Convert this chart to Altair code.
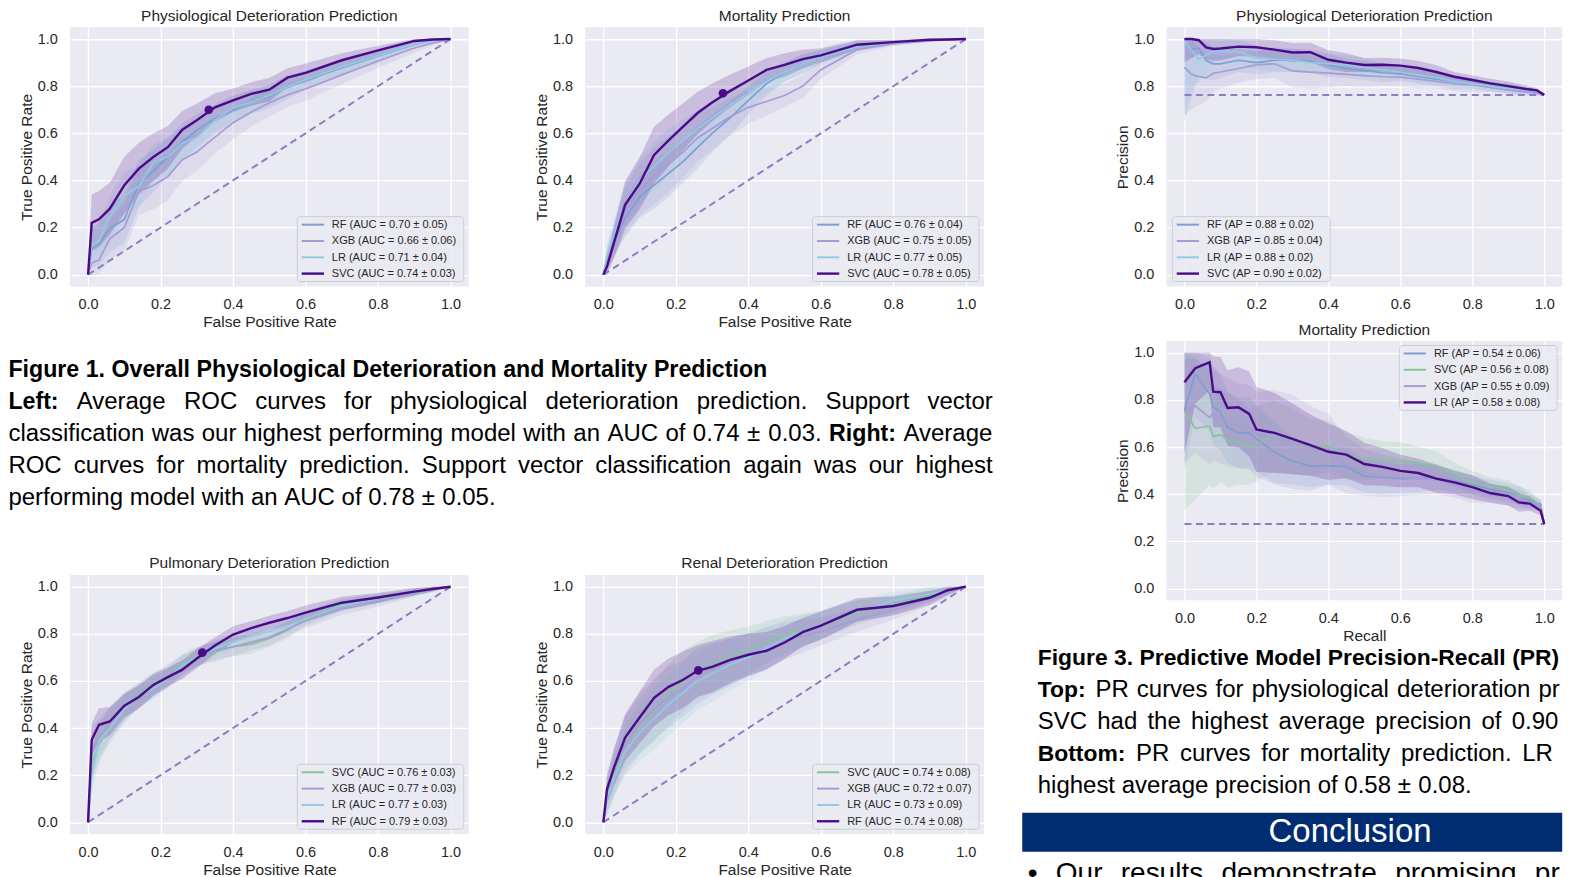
import altair as alt
import pandas as pd

FONT = "Liberation Sans"
INK = "#262626"
PANEL_BG = "#EAEAF2"
C_RF = "#7F9FD0"
C_XGB = "#A99BD6"
C_LR = "#8FCBE3"
C_SVC = "#86C49C"
C_BEST = "#4B0A8A"
C_CHANCE = "#8B7FC3"

# ---------------- ROC data (false positive rate grid) ----------------
ROC_FPR = [0, 0.01, 0.03, 0.06, 0.1, 0.14, 0.18, 0.22, 0.26, 0.3, 0.35, 0.4, 0.45, 0.5, 0.55, 0.6, 0.7, 0.8, 0.9, 0.95, 1.0]
CHANCE_X = [0, 1]
CHANCE_Y = [0, 1]

PHYS_LABELS = ["RF (AUC = 0.70 ± 0.05)", "XGB (AUC = 0.66 ± 0.06)", "LR (AUC = 0.71 ± 0.04)", "SVC (AUC = 0.74 ± 0.03)"]
PHYS_RF = [0, .11, .13, .196, .234, .387, .44, .50, .563, .613, .663, .70, .734, .756, .795, .826, .877, .928, .977, .994, 1]
PHYS_XGB = [0, .05, .062, .152, .20, .353, .378, .416, .488, .52, .584, .645, .69, .73, .763, .788, .848, .907, .962, .982, 1]
PHYS_LR = [0, .126, .142, .243, .335, .375, .475, .50, .558, .582, .656, .708, .732, .76, .797, .828, .882, .93, .979, .993, 1]
PHYS_SVC = [0, .22, .235, .28, .38, .45, .499, .541, .615, .655, .71, .74, .767, .785, .836, .856, .91, .952, .992, .998, 1]
PHYS_RF_SD = [0, .08, .09, .10, .10, .10, .09, .08, .08, .07, .06, .06, .05, .05, .05, .04, .03, .03, .015, .01, 0]
PHYS_XGB_SD = [0, .05, .06, .09, .10, .10, .10, .10, .09, .08, .07, .07, .06, .06, .05, .05, .04, .03, .02, .01, 0]
PHYS_LR_SD = [0, .07, .08, .09, .10, .09, .08, .08, .07, .06, .06, .05, .05, .04, .04, .04, .03, .02, .01, .01, 0]
PHYS_SVC_SD = [0, .12, .12, .11, .12, .11, .10, .09, .08, .07, .06, .05, .05, .05, .04, .04, .03, .02, .01, .005, 0]
PHYS_DOT = [0.333, 0.70]

MORT_LABELS = ["RF (AUC = 0.76 ± 0.04)", "XGB (AUC = 0.75 ± 0.05)", "LR (AUC = 0.77 ± 0.05)", "SVC (AUC = 0.78 ± 0.05)"]
MORT_RF = [0, .06, .14, .24, .33, .38, .43, .48, .54, .60, .665, .74, .81, .86, .895, .925, .97, .985, .995, .998, 1]
MORT_XGB = [0, .06, .15, .27, .36, .42, .47, .52, .58, .62, .67, .71, .735, .76, .80, .87, .955, .98, .992, .997, 1]
MORT_LR = [0, .08, .17, .30, .40, .46, .52, .57, .62, .665, .72, .77, .82, .86, .895, .925, .968, .985, .995, .998, 1]
MORT_SVC = [0, .034, .14, .296, .386, .508, .57, .628, .686, .731, .78, .824, .869, .89, .915, .931, .976, .987, .997, .998, 1]
MORT_RF_SD = [0, .04, .06, .08, .09, .10, .10, .09, .09, .08, .07, .06, .05, .04, .04, .03, .02, .01, .005, 0, 0]
MORT_XGB_SD = [0, .05, .07, .10, .11, .12, .12, .11, .10, .09, .08, .07, .06, .05, .05, .04, .02, .01, .005, 0, 0]
MORT_LR_SD = [0, .05, .07, .09, .10, .10, .10, .09, .08, .07, .06, .05, .05, .04, .04, .03, .02, .01, .005, 0, 0]
MORT_SVC_SD = [0, .04, .07, .10, .11, .12, .11, .10, .09, .08, .07, .06, .05, .05, .04, .03, .02, .01, .005, 0, 0]
MORT_DOT = [0.33, 0.77]

PULM_LABELS = ["SVC (AUC = 0.76 ± 0.03)", "XGB (AUC = 0.77 ± 0.03)", "LR (AUC = 0.77 ± 0.03)", "RF (AUC = 0.79 ± 0.03)"]
PULM_SVC = [0, .25, .33, .42, .49, .545, .587, .62, .672, .705, .723, .745, .755, .78, .815, .865, .925, .948, .972, .988, 1]
PULM_XGB = [0, .30, .36, .42, .49, .535, .58, .62, .665, .70, .73, .745, .765, .785, .82, .855, .905, .935, .975, .99, 1]
PULM_LR = [0, .20, .345, .40, .48, .535, .568, .612, .666, .70, .738, .767, .79, .81, .833, .865, .92, .95, .978, .99, 1]
PULM_RF = [0, .35, .414, .428, .495, .532, .583, .616, .648, .695, .75, .797, .824, .847, .867, .89, .932, .954, .979, .99, 1]
PULM_SVC_SD = [0, .08, .08, .07, .06, .05, .05, .04, .04, .04, .04, .04, .04, .035, .035, .03, .025, .02, .015, .01, 0]
PULM_XGB_SD = [0, .10, .08, .07, .06, .05, .05, .05, .045, .04, .04, .04, .035, .035, .03, .03, .025, .02, .015, .01, 0]
PULM_LR_SD = [0, .08, .08, .07, .06, .05, .045, .04, .04, .04, .035, .035, .035, .03, .03, .03, .025, .02, .015, .01, 0]
PULM_RF_SD = [0, .07, .07, .06, .05, .05, .045, .04, .04, .04, .035, .035, .03, .03, .03, .03, .025, .02, .015, .01, 0]
PULM_DOT = [0.315, 0.72]

RENAL_LABELS = ["SVC (AUC = 0.74 ± 0.08)", "XGB (AUC = 0.72 ± 0.07)", "LR (AUC = 0.73 ± 0.09)", "RF (AUC = 0.74 ± 0.08)"]
RENAL_SVC = [0, .10, .20, .34, .41, .475, .54, .60, .645, .675, .705, .73, .765, .795, .815, .835, .89, .925, .965, .985, 1]
RENAL_XGB = [0, .12, .22, .33, .42, .48, .53, .57, .62, .65, .68, .71, .74, .77, .79, .81, .86, .90, .95, .975, 1]
RENAL_LR = [0, .10, .19, .30, .38, .44, .50, .55, .60, .63, .67, .70, .74, .78, .81, .84, .895, .94, .97, .985, 1]
RENAL_RF = [0, .14, .235, .36, .445, .528, .575, .605, .643, .66, .689, .711, .728, .763, .807, .835, .902, .918, .953, .985, 1]
RENAL_SVC_SD = [0, .07, .09, .11, .12, .13, .13, .13, .12, .12, .11, .10, .09, .08, .07, .06, .05, .04, .03, .02, 0]
RENAL_XGB_SD = [0, .08, .10, .12, .13, .13, .13, .12, .12, .11, .10, .09, .09, .08, .07, .06, .05, .04, .03, .02, 0]
RENAL_LR_SD = [0, .06, .08, .10, .12, .13, .13, .13, .12, .12, .11, .10, .09, .08, .07, .06, .05, .04, .03, .02, 0]
RENAL_RF_SD = [0, .06, .08, .10, .11, .12, .12, .12, .11, .11, .10, .09, .08, .07, .06, .06, .05, .04, .03, .02, 0]
RENAL_DOT = [0.262, 0.645]

# ---------------- PR data (recall grids) ----------------
PR_PHYS_RECALL = [0, .02, .04, .06, .08, .1, .15, .2, .25, .3, .35, .4, .45, .5, .55, .6, .65, .7, .75, .8, .85, .9, .95, .98, 1.0]
PR_PHYS_BASE = 0.763
PR_PHYS_LABELS = ["RF (AP = 0.88 ± 0.02)", "XGB (AP = 0.85 ± 0.04)", "LR (AP = 0.88 ± 0.02)", "SVC (AP = 0.90 ± 0.02)"]
PR_PHYS_RF = [1.0, .955, .962, .91, .895, .895, .91, .90, .91, .91, .905, .89, .875, .866, .857, .852, .84, .83, .818, .81, .80, .79, .78, .775, .763]
PR_PHYS_XGB = [.88, .85, .84, .835, .855, .86, .875, .89, .895, .865, .86, .855, .85, .845, .84, .838, .83, .82, .81, .805, .795, .785, .775, .77, .763]
PR_PHYS_LR = [1.0, .95, .915, .93, .948, .95, .945, .92, .915, .91, .90, .895, .89, .88, .87, .86, .848, .836, .82, .81, .80, .79, .783, .778, .763]
PR_PHYS_SVC = [1.0, 1.0, .995, .965, .958, .96, .968, .965, .955, .943, .944, .912, .90, .89, .891, .887, .877, .86, .84, .826, .812, .80, .788, .782, .763]
PR_PHYS_RF_SD = [.35, .2, .12, .08, .07, .06, .05, .05, .05, .05, .05, .05, .04, .04, .04, .03, .03, .03, .03, .02, .02, .02, .015, .01, 0]
PR_PHYS_XGB_SD = [.2, .15, .12, .1, .08, .07, .06, .06, .06, .07, .07, .06, .05, .05, .04, .04, .04, .03, .03, .03, .02, .02, .015, .01, 0]
PR_PHYS_LR_SD = [.3, .15, .1, .07, .06, .05, .05, .05, .05, .05, .04, .04, .04, .04, .03, .03, .03, .03, .02, .02, .02, .02, .015, .01, 0]
PR_PHYS_SVC_SD = [.1, .08, .06, .05, .05, .05, .04, .04, .04, .04, .04, .04, .04, .03, .03, .03, .03, .03, .02, .02, .02, .02, .015, .01, 0]

PR_MORT_RECALL = [0, .03, .07, .08, .1, .12, .15, .18, .2, .25, .3, .35, .4, .45, .5, .55, .6, .65, .7, .75, .8, .85, .9, .93, .96, .99, 1.0]
PR_MORT_BASE = 0.273
PR_MORT_LABELS = ["RF (AP = 0.54 ± 0.06)", "SVC (AP = 0.56 ± 0.08)", "XGB (AP = 0.55 ± 0.09)", "LR (AP = 0.58 ± 0.08)"]
PR_MORT_RF = [.755, .91, .825, .77, .748, .684, .66, .66, .635, .578, .541, .519, .521, .517, .477, .472, .466, .469, .469, .456, .44, .421, .406, .395, .372, .358, .273]
PR_MORT_SVC = [.752, .68, .69, .645, .653, .628, .62, .60, .614, .648, .625, .598, .604, .563, .55, .546, .54, .531, .522, .485, .448, .433, .419, .394, .387, .351, .273]
PR_MORT_XGB = [.752, .775, .725, .745, .72, .705, .69, .683, .655, .641, .622, .594, .59, .524, .493, .478, .471, .468, .46, .436, .414, .403, .391, .38, .365, .351, .273]
PR_MORT_LR = [.875, .935, .96, .835, .833, .766, .769, .741, .675, .66, .635, .608, .58, .568, .528, .516, .499, .49, .466, .45, .43, .405, .392, .365, .36, .33, .273]
PR_MORT_RF_SD = [.25, .18, .16, .16, .16, .15, .15, .15, .14, .13, .1, .09, .08, .08, .07, .07, .06, .06, .05, .05, .04, .04, .04, .04, .03, .02, .01]
PR_MORT_SVC_SD = [.42, .3, .25, .22, .2, .2, .18, .16, .16, .15, .14, .12, .11, .1, .09, .08, .08, .07, .06, .05, .05, .04, .04, .04, .03, .02, .01]
PR_MORT_XGB_SD = [.22, .2, .2, .2, .19, .19, .18, .18, .18, .2, .2, .18, .15, .12, .1, .09, .08, .07, .06, .05, .05, .04, .04, .04, .03, .02, .01]
PR_MORT_LR_SD = [.3, .15, .12, .15, .15, .16, .17, .18, .18, .17, .15, .13, .12, .1, .09, .08, .07, .06, .06, .05, .05, .04, .04, .04, .03, .02, .01]

TICKS = [0, 0.2, 0.4, 0.6, 0.8, 1.0]

# ---------------- poster text (only what is visible in the crop) ----------------
LEFT_LINES = [
    [("Figure 1. Overall Physiological Deterioration and Mortality Prediction", True)],
    [("Left:", True), ("Average ROC curves for physiological deterioration prediction. Support vector", False)],
    [("classification was our highest performing model with an AUC of 0.74 ± 0.03.", False), ("Right:", True), ("Average", False)],
    [("ROC curves for mortality prediction. Support vector classification again was our highest", False)],
    [("performing model with an AUC of 0.78 ± 0.05.", False)],
]
RIGHT_LINES = [
    [("Figure 3. Predictive Model Precision-Recall (PR)", True)],
    [("Top:", True), ("PR curves for physiological deterioration pr", False)],
    [("SVC had the highest average precision of 0.90", False)],
    [("Bottom:", True), ("PR curves for mortality prediction. LR", False)],
    [("highest average precision of 0.58 ± 0.08.", False)],
]
BANNER_TEXT = "Conclusion"
BULLET_LINE = [("• Our results demonstrate promising pr", False)]

# Helvetica / Arial advance widths (per 1000 em) used to lay out the words
_REG = dict(zip(" .,:;()-±•", [278, 278, 278, 278, 278, 333, 333, 333, 584, 350]))
_REG.update(dict(zip("0123456789", [556] * 10)))
_REG.update(dict(zip("abcdefghijklmnopqrstuvwxyz",
                     [556, 556, 500, 556, 556, 278, 556, 556, 222, 222, 500, 222, 833, 556, 556, 556, 556, 333, 500, 278, 556, 500, 722, 500, 500, 500])))
_REG.update(dict(zip("ABCDEFGHIJKLMNOPQRSTUVWXYZ",
                     [667, 667, 722, 722, 667, 611, 778, 722, 278, 500, 667, 556, 833, 722, 778, 667, 778, 722, 667, 611, 722, 667, 944, 667, 667, 611])))
_BOLD = dict(zip(" .,:;()-±•", [278, 278, 278, 333, 333, 333, 333, 333, 584, 350]))
_BOLD.update(dict(zip("0123456789", [556] * 10)))
_BOLD.update(dict(zip("abcdefghijklmnopqrstuvwxyz",
                      [556, 611, 556, 611, 556, 333, 611, 611, 278, 278, 556, 278, 889, 611, 611, 611, 611, 389, 556, 333, 611, 556, 778, 556, 556, 500])))
_BOLD.update(dict(zip("ABCDEFGHIJKLMNOPQRSTUVWXYZ",
                      [722, 722, 722, 722, 667, 611, 778, 722, 278, 556, 722, 611, 833, 722, 778, 667, 778, 722, 667, 611, 722, 667, 944, 667, 667, 611])))


def text_width(s, bold, size):
    table = _BOLD if bold else _REG
    return sum(table.get(c, 556) for c in s) * size / 1000.0


def layout_lines(lines, modes, x0, x1, y0, lh, fs_reg, fs_bold):
    rows = []
    for i, segs in enumerate(lines):
        words = [(w, b) for t, b in segs for w in t.split()]
        sizes = [fs_bold if b else fs_reg for _, b in words]
        widths = [text_width(w, b, s) for (w, b), s in zip(words, sizes)]
        mode = modes[i]
        if mode == "justify":
            gap = (x1 - x0 - sum(widths)) / (len(words) - 1)
        elif mode == "natural":
            gap = 278 * sizes[0] / 1000.0
        else:
            gap = float(mode)
        x = x0
        for (w, b), s, wd in zip(words, sizes, widths):
            rows.append({"w": w, "b": b, "fs": s, "x": x, "y": y0 + i * lh})
            x += wd + gap
    return rows


def text_layer(rows, color="#000000"):
    df = pd.DataFrame(rows)
    parts = []
    for weight, sub in (("normal", df[~df.b]), ("bold", df[df.b])):
        if len(sub) == 0:
            continue
        parts.append(alt.Chart(sub.drop(columns=["b"])).mark_text(
            align="left", baseline="alphabetic", font=FONT, color=color, fontWeight=weight
        ).encode(
            x=alt.X("x:Q", scale=None, axis=None),
            y=alt.Y("y:Q", scale=None, axis=None),
            text="w:N",
            size=alt.Size("fs:Q", scale=None, legend=None),
        ))
    return parts


def frame(x1, x2, y1, y2):
    """Invisible box that fixes the extent of a cell for the concat layout."""
    return alt.Chart(pd.DataFrame({"k": [0]})).mark_rect(opacity=0).encode(
        x=alt.value(x1), x2=alt.value(x2), y=alt.value(y1), y2=alt.value(y2))


PH = 259.3
LEG_FS = 11
LEG_ROW = 16.33
TITLE_BASE = -6.5


def legend_layers(labels, colors, corner, pw):
    """Matplotlib-style legend box drawn inside the panel."""
    tw = max(text_width(l, False, LEG_FS) for l in labels)
    bw = 34.6 + tw + 7.5
    bh = 8 + 3 * LEG_ROW + 8
    if corner == "bottom-right":
        bx, by = pw - 5 - bw, PH - 4.8 - bh
    elif corner == "bottom-left":
        bx, by = 5.9, PH - 4.8 - bh
    else:
        bx, by = pw - 5 - bw, 4.4
    out = [alt.Chart(pd.DataFrame({"k": [0]})).mark_rect(
        fill="#EAEAF2", fillOpacity=0.85, stroke="#CDCDD5", strokeWidth=1, cornerRadius=3
    ).encode(x=alt.value(bx), x2=alt.value(bx + bw), y=alt.value(by), y2=alt.value(by + bh))]
    for i, (lab, col) in enumerate(zip(labels, colors)):
        yy = by + 8 + i * LEG_ROW
        out.append(alt.Chart(pd.DataFrame({"t": [lab]})).mark_rule(
            color=col, strokeWidth=2.4 if i == len(labels) - 1 else 2
        ).encode(x=alt.value(bx + 4.4), x2=alt.value(bx + 26.7), y=alt.value(yy)))
        out.append(alt.Chart(pd.DataFrame({"t": [lab]})).mark_text(
            align="left", baseline="middle", font=FONT, fontSize=LEG_FS, color=INK
        ).encode(x=alt.value(bx + 34.6), y=alt.value(yy + 0.5), text="t:N"))
    return out


def panel(title, xs, means, sds, labels, colors, dot, ref_x, ref_y, corner, xtitle, ytitle, ext, pw):
    rows = []
    for lab, m, s in zip(labels, means, sds):
        for x, v, d in zip(xs, m, s):
            rows.append({"label": lab, "x": x, "v": v, "lo": max(0.0, v - d), "hi": min(1.0, v + d)})
    df = pd.DataFrame(rows)
    best = labels[-1]
    sc = alt.Scale(domain=[-0.05, 1.05], nice=False, zero=False)
    xaxis = alt.Axis(values=TICKS, format=".1f", grid=True, gridColor="white", gridWidth=1.3,
                     domain=False, ticks=False, tickSize=0, labelFont=FONT, labelFontSize=14.5,
                     labelColor=INK, labelPadding=22.5, labelBaseline="alphabetic", labelFlush=False,
                     labelOverlap=False, titleFont=FONT, titleFontSize=15.5, titleColor=INK,
                     titleFontWeight="normal", titleY=40.5, titleBaseline="alphabetic")
    yaxis = alt.Axis(values=TICKS, format=".1f", grid=True, gridColor="white", gridWidth=1.3,
                     domain=False, ticks=False, tickSize=0, labelFont=FONT, labelFontSize=14.5,
                     labelColor=INK, labelPadding=12.6, labelFlush=False, labelOverlap=False,
                     titleFont=FONT, titleFontSize=15.5, titleColor=INK, titleFontWeight="normal",
                     titleX=-38.9, titleY=PH / 2, titleAngle=270, titleAlign="center",
                     titleBaseline="alphabetic")
    X = alt.X("x:Q", scale=sc, axis=xaxis, title=xtitle)

    def Y(field):
        return alt.Y(field, scale=sc, axis=yaxis, title=ytitle)

    pal = alt.Scale(domain=labels, range=colors)
    bands = alt.Chart(df).mark_area(opacity=0.2).encode(
        x=X, y=Y("lo:Q"), y2="hi:Q", fill=alt.Fill("label:N", scale=pal, legend=None))
    chance = alt.Chart(pd.DataFrame({"x": ref_x, "v": ref_y})).mark_line(
        color=C_CHANCE, strokeDash=[7, 4.5], strokeWidth=2).encode(x=X, y=Y("v:Q"))
    others = alt.Chart(df[df.label != best]).mark_line(strokeWidth=1.7).encode(
        x=X, y=Y("v:Q"), stroke=alt.Stroke("label:N", scale=pal, legend=None))
    top = alt.Chart(df[df.label == best]).mark_line(strokeWidth=2.4).encode(
        x=X, y=Y("v:Q"), stroke=alt.Stroke("label:N", scale=pal, legend=None))
    heading = alt.Chart(pd.DataFrame({"t": [title]})).mark_text(
        font=FONT, fontSize=15.5, color=INK, align="center", baseline="alphabetic"
    ).encode(x=alt.value(pw / 2), y=alt.value(TITLE_BASE), text="t:N")
    layers = [frame(-ext[0], pw, -ext[1], PH + ext[2]), bands, chance, others, top]
    if dot is not None:
        layers.append(alt.Chart(pd.DataFrame({"x": [dot[0]], "v": [dot[1]]})).mark_circle(
            size=75, opacity=1, color=C_BEST).encode(x=X, y=Y("v:Q")))
    layers += legend_layers(labels, colors, corner, pw)
    layers.append(heading)
    return alt.layer(*layers).properties(
        width=pw, height=PH, view=alt.ViewBackground(fill=PANEL_BG, stroke=None))


ROC_W, PR_W = 399, 396
TOP_EXT = (62, 18.7, 50)
LOW_EXT = (62, 26, 50)
roc_phys = panel("Physiological Deterioration Prediction", ROC_FPR,
                 [PHYS_RF, PHYS_XGB, PHYS_LR, PHYS_SVC], [PHYS_RF_SD, PHYS_XGB_SD, PHYS_LR_SD, PHYS_SVC_SD],
                 PHYS_LABELS, [C_RF, C_XGB, C_LR, C_BEST], PHYS_DOT, CHANCE_X, CHANCE_Y,
                 "bottom-right", "False Positive Rate", "True Positive Rate", TOP_EXT, ROC_W)
roc_mort = panel("Mortality Prediction", ROC_FPR,
                 [MORT_RF, MORT_XGB, MORT_LR, MORT_SVC], [MORT_RF_SD, MORT_XGB_SD, MORT_LR_SD, MORT_SVC_SD],
                 MORT_LABELS, [C_RF, C_XGB, C_LR, C_BEST], MORT_DOT, CHANCE_X, CHANCE_Y,
                 "bottom-right", "False Positive Rate", "True Positive Rate", TOP_EXT, ROC_W)
roc_pulm = panel("Pulmonary Deterioration Prediction", ROC_FPR,
                 [PULM_SVC, PULM_XGB, PULM_LR, PULM_RF], [PULM_SVC_SD, PULM_XGB_SD, PULM_LR_SD, PULM_RF_SD],
                 PULM_LABELS, [C_SVC, C_XGB, C_LR, C_BEST], PULM_DOT, CHANCE_X, CHANCE_Y,
                 "bottom-right", "False Positive Rate", "True Positive Rate", LOW_EXT, ROC_W)
roc_renal = panel("Renal Deterioration Prediction", ROC_FPR,
                  [RENAL_SVC, RENAL_XGB, RENAL_LR, RENAL_RF], [RENAL_SVC_SD, RENAL_XGB_SD, RENAL_LR_SD, RENAL_RF_SD],
                  RENAL_LABELS, [C_SVC, C_XGB, C_LR, C_BEST], RENAL_DOT, CHANCE_X, CHANCE_Y,
                  "bottom-right", "False Positive Rate", "True Positive Rate", LOW_EXT, ROC_W)
pr_phys = panel("Physiological Deterioration Prediction", PR_PHYS_RECALL,
                [PR_PHYS_RF, PR_PHYS_XGB, PR_PHYS_LR, PR_PHYS_SVC],
                [PR_PHYS_RF_SD, PR_PHYS_XGB_SD, PR_PHYS_LR_SD, PR_PHYS_SVC_SD],
                PR_PHYS_LABELS, [C_RF, C_XGB, C_LR, C_BEST], None, [0, 1], [PR_PHYS_BASE, PR_PHYS_BASE],
                "bottom-left", None, "Precision", (146, 18.7, 30), PR_W)
pr_mort = panel("Mortality Prediction", PR_MORT_RECALL,
                [PR_MORT_RF, PR_MORT_SVC, PR_MORT_XGB, PR_MORT_LR],
                [PR_MORT_RF_SD, PR_MORT_SVC_SD, PR_MORT_XGB_SD, PR_MORT_LR_SD],
                PR_MORT_LABELS, [C_RF, C_SVC, C_XGB, C_BEST], None, [0, 1], [PR_MORT_BASE, PR_MORT_BASE],
                "top-right", "Recall", "Precision", (146, 23.1, 44.5), PR_W)

# ---------------- text blocks ----------------
TEXT1_W, TEXT1_H = 930, 211.4
left_rows = layout_lines(LEFT_LINES, ["natural", "justify", "justify", "justify", "natural"],
                         -61.6, 923.4, 40.2, 32, 24, 23.2)
text_left = alt.layer(frame(-62, TEXT1_W, 0, TEXT1_H), *text_layer(left_rows)).properties(
    width=TEXT1_W, height=TEXT1_H)

# right-column text, positioned relative to the PR plots' left edge
TEXT3_H = 244
right_rows = layout_lines(RIGHT_LINES, ["natural", 8.1, 10.2, 10.6, "natural"],
                          -128.8, 0, 20.1, 32, 24, 22.9)
bullet_rows = layout_lines([BULLET_LINE], [18.3], -138.8, 0, 237.1, 32, 28, 28)
banner = alt.Chart(pd.DataFrame({"t": [BANNER_TEXT]})).mark_rect(color="#002D72").encode(
    x=alt.value(-144.3), x2=alt.value(PR_W), y=alt.value(168.1), y2=alt.value(207.1))
banner_text = alt.Chart(pd.DataFrame({"t": [BANNER_TEXT]})).mark_text(
    font=FONT, fontSize=33, color="white", align="center", baseline="alphabetic"
).encode(x=alt.value(183.7), y=alt.value(197.1), text="t:N")
text_right = alt.layer(frame(-144.3, PR_W, 0, TEXT3_H), *text_layer(right_rows),
                       banner, banner_text, *text_layer(bullet_rows)).properties(
    width=PR_W, height=TEXT3_H)

IND = dict(x="independent", y="independent", stroke="independent", fill="independent", size="independent")
row1 = alt.hconcat(roc_phys, roc_mort, spacing=54.6).resolve_scale(**IND)
row3 = alt.hconcat(roc_pulm, roc_renal, spacing=54.6).resolve_scale(**IND)
left_col = alt.vconcat(row1, text_left, row3, spacing=0).resolve_scale(**IND)
right_col = alt.vconcat(pr_phys, pr_mort, text_right, spacing=0).resolve_scale(**IND)

chart = alt.hconcat(left_col, right_col, spacing=21.2).resolve_scale(**IND).properties(
    padding=0, background="white"
).configure_view(stroke=None)

chart.save("out.html", embed_options={"renderer": "svg", "actions": False})
